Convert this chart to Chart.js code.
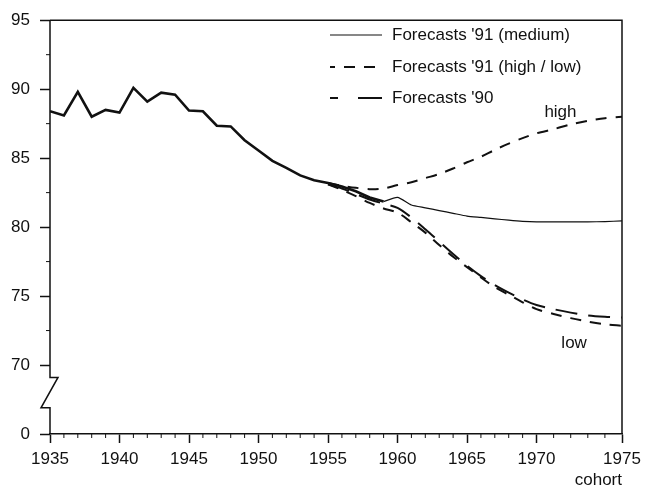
<!DOCTYPE html>
<html>
<head>
<meta charset="utf-8">
<script src="https://cdn.jsdelivr.net/npm/chart.js@4.4.0/dist/chart.umd.min.js"></script>
<style>
    html, body { margin: 0; padding: 0; background: #fff; }
    #wrap { width: 647px; height: 487px; }
</style>
</head>
<body>
<div id="wrap"><canvas id="chart"></canvas></div>
<script>
// observed cohorts (thick line)
const histYears = [1935, 1936, 1937, 1938, 1939, 1940, 1941, 1942, 1943, 1944, 1945, 1946,
    1947, 1948, 1949, 1950, 1951, 1952, 1953, 1954, 1955, 1956, 1957, 1958, 1959];
const histValues = [88.4, 88.1, 89.8, 88.0, 88.5, 88.3, 90.1, 89.1, 89.75, 89.6, 88.45, 88.4,
    87.35, 87.3, 86.3, 85.55, 84.8, 84.3, 83.75, 83.4, 83.2, 82.95, 82.6, 82.15, 81.85];

// Forecasts '91 (medium)
const mediumYears = [1959, 1960, 1961, 1962, 1963, 1964, 1965, 1966, 1967, 1968, 1969, 1970,
    1971, 1972, 1973, 1974, 1975];
const mediumValues = [81.85, 82.15, 81.6, 81.4, 81.2, 81.0, 80.8, 80.7, 80.6, 80.5, 80.42, 80.38,
    80.38, 80.38, 80.38, 80.4, 80.45];

// high / low variants and the '90 forecast
const branchYears = [1955, 1956, 1957, 1958, 1959, 1960, 1961, 1962, 1963, 1964, 1965, 1966,
    1967, 1968, 1969, 1970, 1971, 1972, 1973, 1974, 1975];
const highValues = [83.2, 83.0, 82.85, 82.75, 82.8, 83.05, 83.25, 83.55, 83.85, 84.25, 84.7, 85.1,
    85.6, 86.05, 86.45, 86.8, 87.1, 87.45, 87.7, 87.9, 88.0];
const lowValues = [83.1, 82.7, 82.25, 81.75, 81.35, 81.05, 80.35, 79.6, 78.7, 77.85, 77.1, 76.35,
    75.65, 75.1, 74.55, 74.05, 73.7, 73.4, 73.15, 72.95, 72.85];
const forecast90Values = [83.1, 82.8, 82.4, 82.0, 81.7, 81.4, 80.7, 79.85, 78.95, 78.05, 77.2, 76.45,
    75.8, 75.25, 74.75, 74.35, 74.05, 73.8, 73.6, 73.5, 73.45];

// axis ticks
const xTicks = [1935, 1940, 1945, 1950, 1955, 1960, 1965, 1970, 1975];
const yTicks = [65, 70, 75, 80, 85, 90, 95];      // 65 sits below the axis break, shown as "0"
const yMinor = [72.5, 77.5, 82.5, 87.5, 92.5];

const ink = '#111';
const font = { family: "'Liberation Sans', Arial, sans-serif", size: 17 };

// the original drawing stretches the last five years of the axis a bit
function warp(year) {
    return year <= 1970 ? year : 1970 + (year - 1970) * 1.23;
}
function unwarp(v) {
    return v <= 1970 ? v : 1970 + (v - 1970) / 1.23;
}

class CohortScale extends Chart.LinearScale {
    getPixelForValue(value) {
        const a = warp(this.min), b = warp(this.max);
        return this.getPixelForDecimal((warp(value) - a) / (b - a));
    }
    getValueForPixel(pixel) {
        const a = warp(this.min), b = warp(this.max);
        return unwarp(a + this.getDecimalForPixel(pixel) * (b - a));
    }
}
CohortScale.id = 'cohort';
CohortScale.defaults = Chart.LinearScale.defaults;
Chart.register(CohortScale);

function points(xs, ys) {
    return xs.map((x, i) => ({ x: x, y: ys[i] }));
}

const datasets = [
    { label: 'history', data: points(histYears, histValues), borderWidth: 2.6, tension: 0 },
    { label: "Forecasts '91 (medium)", data: points(mediumYears, mediumValues), borderWidth: 1.2, tension: 0.2 },
    { label: "Forecasts '91 (high / low)", data: points(branchYears, highValues), borderWidth: 2, borderDash: [11, 9], tension: 0.3 },
    { label: 'low91', data: points(branchYears, lowValues), borderWidth: 2, borderDash: [11, 9], tension: 0.3 },
    { label: "Forecasts '90", data: points(branchYears, forecast90Values), borderWidth: 2, borderDash: [22, 11], tension: 0.3 }
];
datasets.forEach(d => {
    d.borderColor = ink;
    d.pointRadius = 0;
    d.fill = false;
});

// legend rows drawn inside the plot, like the original
const legendRows = [
    { dataset: 1, dash: [], offset: 0 },
    { dataset: 2, dash: [11, 9], offset: 6 },
    { dataset: 4, dash: [8, 20, 24, 10], offset: 0 }
];
const curveLabels = [
    { text: 'high', year: 1971.4, value: 88.3 },
    { text: 'low', year: 1972.2, value: 71.6 }
];

const framePlugin = {
    id: 'frame',
    afterDraw(chart) {
        const ctx = chart.ctx;
        const a = chart.chartArea;
        const x = chart.scales.x, y = chart.scales.y;
        ctx.save();
        ctx.strokeStyle = ink;
        ctx.lineWidth = 1.5;

        // top and right edge
        ctx.beginPath();
        ctx.moveTo(a.left, a.top);
        ctx.lineTo(a.right, a.top);
        ctx.lineTo(a.right, a.bottom);
        ctx.stroke();

        // left axis with the break between 0 and 70
        const b1 = y.getPixelForValue(69.1), b2 = y.getPixelForValue(66.9);
        ctx.beginPath();
        ctx.moveTo(a.left, a.top);
        ctx.lineTo(a.left, b1);
        ctx.lineTo(a.left + 8, b1);
        ctx.lineTo(a.left - 9, b2);
        ctx.lineTo(a.left, b2);
        ctx.lineTo(a.left, a.bottom);
        ctx.stroke();

        // minor ticks
        ctx.lineWidth = 1;
        ctx.beginPath();
        yMinor.forEach(v => {
            const py = y.getPixelForValue(v);
            ctx.moveTo(a.left - 4, py);
            ctx.lineTo(a.left, py);
        });
        for (let yr = 1936; yr < 1975; yr++) {
            if (yr % 5 === 0) continue;
            const px = x.getPixelForValue(yr);
            ctx.moveTo(px, a.bottom);
            ctx.lineTo(px, a.bottom + 4);
        }
        ctx.stroke();

        // legend
        ctx.font = font.size + 'px ' + font.family;
        ctx.fillStyle = ink;
        ctx.textBaseline = 'middle';
        ctx.textAlign = 'left';
        const rowY = [35, 67, 98];
        legendRows.forEach((row, i) => {
            const ds = chart.data.datasets[row.dataset];
            ctx.lineWidth = ds.borderWidth;
            ctx.setLineDash(row.dash);
            ctx.lineDashOffset = row.offset;
            ctx.beginPath();
            ctx.moveTo(330, rowY[i]);
            ctx.lineTo(382, rowY[i]);
            ctx.stroke();
            ctx.setLineDash([]);
            ctx.fillText(ds.label, 392, rowY[i]);
        });

        // curve labels
        ctx.textAlign = 'center';
        curveLabels.forEach(l => {
            ctx.fillText(l.text, x.getPixelForValue(l.year), y.getPixelForValue(l.value));
        });
        ctx.restore();
    }
};

new Chart(document.getElementById('chart'), {
    type: 'line',
    data: { datasets: datasets },
    plugins: [framePlugin],
    options: {
        responsive: true,
        maintainAspectRatio: false,
        animation: false,
        devicePixelRatio: 1,
        layout: { padding: { top: 19, right: 25, left: 0, bottom: 0 } },
        plugins: {
            legend: { display: false },
            tooltip: { enabled: false }
        },
        scales: {
            x: {
                type: 'cohort',
                min: 1935,
                max: 1975,
                afterBuildTicks: s => { s.ticks = xTicks.map(v => ({ value: v })); },
                afterFit: s => { s.height = 53; },
                grid: { drawOnChartArea: false, drawTicks: true, tickLength: 9, tickWidth: 1.5, tickColor: ink },
                border: { display: true, color: ink, width: 1.5 },
                ticks: {
                    color: ink, font: font, padding: 6, maxRotation: 0, autoSkip: false,
                    callback: v => String(v)
                },
                title: {
                    display: true, text: 'cohort', align: 'end', color: ink,
                    font: { family: font.family, size: 17, lineHeight: 1 },
                    padding: { top: 0, bottom: -2 }
                }
            },
            y: {
                min: 65,
                max: 95,
                afterBuildTicks: s => { s.ticks = yTicks.map(v => ({ value: v })); },
                afterFit: s => { s.width = 50; },
                grid: { drawOnChartArea: false, drawTicks: true, tickLength: 10, tickWidth: 1.5, tickColor: ink },
                border: { display: false },
                ticks: {
                    color: ink, font: font, padding: 10,
                    callback: v => v === 65 ? '0' : String(v)
                }
            }
        }
    }
});
</script>
</body>
</html>
